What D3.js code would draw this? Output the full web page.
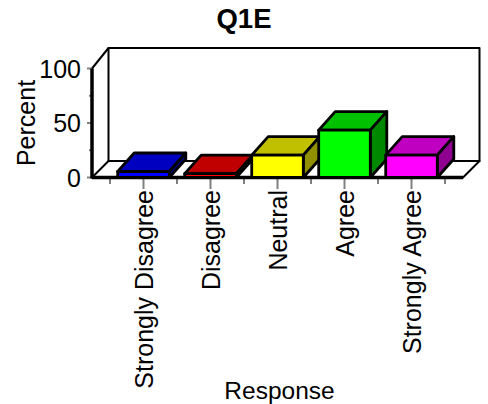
<!DOCTYPE html>
<html><head><meta charset="utf-8"><script src="https://cdn.jsdelivr.net/npm/d3@7"></script>
<style>html,body{margin:0;padding:0;background:#fff}svg{display:block}text{font-family:"Liberation Sans",Arial,sans-serif;fill:#000}</style></head>
<body><svg id="c" width="488" height="404"></svg>
<script>
const categories=["Strongly Disagree","Disagree","Neutral","Agree","Strongly Agree"];
const values=[5.5,3.5,20.5,43.5,20.5];
const yMajor=[0,50,100];
const yMinor=[25,75];
const frontColors=["#0000ff","#ff0000","#ffff00","#00ff00","#ff00ff"];
const topColors=["#0000c0","#c00000","#c0c000","#00c000","#c000c0"];
const sideColors=["#000090","#900000","#909000","#008800","#900090"];
const svg=d3.select("#c");
const x=d3.scaleBand().domain(categories).range([110,445]).paddingInner(.23).paddingOuter(.115);
const band=d3.scaleBand().domain(categories).range([110,445]);
const y=d3.scaleLinear().domain([0,100]).range([177.5,68.5]);
const dx=16.5,dyWall=-16.5,barDy=-18.5;
const leftX=92,rightX=463,topY=48;
const poly=(pts,fill,sw=2.8)=>svg.append("polygon").attr("points",pts.map(p=>p.join(",")).join(" ")).attr("fill",fill).attr("stroke","#000").attr("stroke-width",sw).attr("stroke-linejoin","round");
const line=(a,b,c,d,col="#000",w=2)=>svg.append("line").attr("x1",a).attr("y1",b).attr("x2",c).attr("y2",d).attr("stroke",col).attr("stroke-width",w);
poly([[leftX+dx,topY],[rightX+dx,topY],[rightX+dx,y(0)+dyWall],[leftX+dx,y(0)+dyWall]],"#fff",2);
poly([[leftX,y(0)],[leftX+dx,y(0)+dyWall],[rightX+dx,y(0)+dyWall],[rightX,y(0)]],"#fff",2);
line(leftX,y(100),leftX+dx,topY);
yMajor.forEach(v=>line(leftX-5,y(v),leftX,y(v),"#808080",2));
yMinor.forEach(v=>line(leftX-3,y(v),leftX,y(v),"#808080",2));
const edges=d3.range(categories.length+1).map(i=>110+band.step()*i);
edges.forEach(e=>line(e,178,e,184,"#808080",2));
categories.forEach(c=>line(band(c)+band.bandwidth()/2,178,band(c)+band.bandwidth()/2,189,"#808080",2));
line(leftX,y(100),leftX,y(0)+1,"#000",3.5);
line(leftX,y(0),rightX,y(0),"#000",3.5);
categories.forEach((c,i)=>{
  const a=x(c),b=a+x.bandwidth(),t=y(values[i]),o=y(0);
  poly([[a,t],[a+dx,t+barDy],[b+dx,t+barDy],[b,t]],topColors[i]);
  poly([[b,t],[b+dx,t+barDy],[b+dx,o+barDy],[b,o]],sideColors[i]);
  poly([[a,t],[b,t],[b,o],[a,o]],frontColors[i]);
});
svg.append("text").attr("x",244).attr("y",28).attr("text-anchor","middle").attr("font-size",27.5).attr("font-weight","bold").text("Q1E");
yMajor.forEach(v=>svg.append("text").attr("x",81).attr("y",y(v)+9).attr("text-anchor","end").attr("font-size",25).text(v));
svg.append("text").attr("transform","translate(35,123) rotate(-90)").attr("text-anchor","middle").attr("font-size",25).text("Percent");
categories.forEach(c=>svg.append("text").attr("transform",`translate(${band(c)+band.bandwidth()/2+9},190) rotate(-90)`).attr("text-anchor","end").attr("font-size",25).text(c));
svg.append("text").attr("x",279.5).attr("y",399).attr("text-anchor","middle").attr("font-size",24.5).text("Response");
</script></body></html>
